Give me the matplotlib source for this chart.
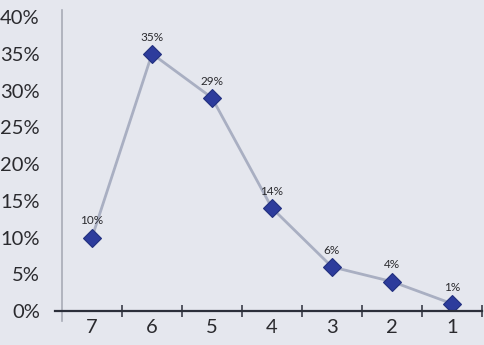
import numpy as np
import matplotlib.pyplot as plt
from matplotlib.ticker import FixedLocator, FuncFormatter

# Share of responses per rating score
categories = ['7', '6', '5', '4', '3', '2', '1']
shares = [10, 35, 29, 14, 6, 4, 1]
y_ticks = [0, 5, 10, 15, 20, 25, 30, 35, 40]

bg = '#e5e7ee'
text_color = '#2a2a2e'

plt.rcParams['font.family'] = ['Lato', 'DejaVu Sans']

fig = plt.figure(figsize=(4.84, 3.45), dpi=100, facecolor=bg)
ax = fig.add_axes([62 / 484, 1 - 311 / 345, 420 / 484, 294 / 345])
ax.set_facecolor(bg)

x = np.arange(len(categories))
ax.plot(x, shares, color='#a9afc2', lw=2.0, zorder=2)
ax.plot(x, shares, linestyle='none', marker='D', ms=9.5,
        mfc='#2d3c9c', mec='#22307f', mew=0.8, zorder=3)

for xi, v in zip(x, shares):
    ax.annotate(f'{v}%', (xi, v), xytext=(0, 8), textcoords='offset points',
                ha='center', va='bottom', fontsize=8.5, color=text_color)

ax.set_xlim(-0.5, len(categories) - 0.5)
ax.set_ylim(0, 40)

for s in ax.spines.values():
    s.set_visible(False)

# vertical rule on the left and the dark baseline
ax.plot([0, 0], [-0.035, 1.025], transform=ax.transAxes, color='#a8acb6',
        lw=1.2, clip_on=False, zorder=1)
ax.plot([-7 / 420, 1], [0, 0], transform=ax.transAxes, color='#2c2f3a',
        lw=1.6, clip_on=False, zorder=4)

ax.set_xticks(x)
ax.set_xticklabels(categories)
ax.xaxis.set_minor_locator(FixedLocator(np.arange(0.5, len(categories), 1.0)))
ax.tick_params(axis='x', which='major', length=0, pad=6, labelsize=14.5,
               labelcolor=text_color)
ax.tick_params(axis='x', which='minor', direction='inout', length=9,
               width=1.1, color='#2c2f3a')

ax.set_yticks(y_ticks)
ax.yaxis.set_major_formatter(FuncFormatter(lambda v, _: f'{v:.0f}%'))
ax.tick_params(axis='y', length=0, pad=16, labelsize=14.5, labelcolor=text_color)

fig.savefig('out.png', dpi=100, facecolor=bg)
